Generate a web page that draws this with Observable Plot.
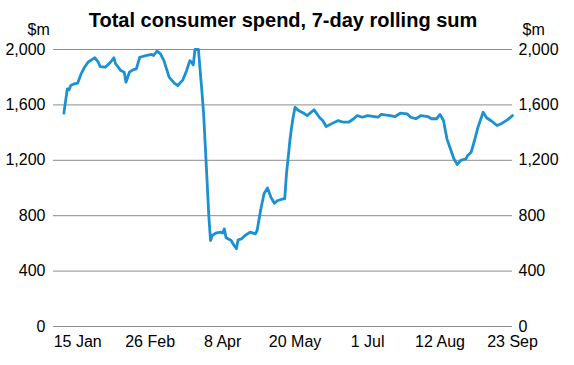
<!DOCTYPE html>
<html>
<head>
<meta charset="utf-8">
<script src="https://cdn.jsdelivr.net/npm/d3@7"></script>
<script src="https://cdn.jsdelivr.net/npm/@observablehq/plot@0.6"></script>
<style>
  html, body { margin: 0; padding: 0; background: #fff; }
  #chart svg { display: block; }
</style>
</head>
<body>
<div id="chart"></div>
<script>
const title = "Total consumer spend, 7-day rolling sum";
const unitLabel = "$m";

const dates = [
  "2020-01-07","2020-01-09","2020-01-10","2020-01-11","2020-01-13","2020-01-15","2020-01-17","2020-01-19",
  "2020-01-21","2020-01-23","2020-01-25","2020-01-27","2020-01-28","2020-01-31","2020-02-03","2020-02-05",
  "2020-02-06","2020-02-09","2020-02-11","2020-02-12","2020-02-14","2020-02-16","2020-02-18","2020-02-20",
  "2020-02-24","2020-02-27","2020-02-28","2020-03-01","2020-03-03","2020-03-05","2020-03-08","2020-03-11",
  "2020-03-13","2020-03-16","2020-03-18","2020-03-20","2020-03-21","2020-03-22","2020-03-23","2020-03-25",
  "2020-03-26","2020-03-27","2020-03-28","2020-03-29","2020-03-30","2020-03-31","2020-04-01","2020-04-02",
  "2020-04-04","2020-04-07","2020-04-08","2020-04-09","2020-04-10","2020-04-13","2020-04-14","2020-04-16",
  "2020-04-17","2020-04-19","2020-04-21","2020-04-24","2020-04-27","2020-04-28","2020-04-30","2020-05-02",
  "2020-05-04","2020-05-06","2020-05-08","2020-05-10","2020-05-13","2020-05-14","2020-05-15","2020-05-16",
  "2020-05-17","2020-05-18","2020-05-19","2020-05-20","2020-05-21","2020-05-22","2020-05-25","2020-05-27",
  "2020-05-31","2020-06-02","2020-06-03","2020-06-05","2020-06-07","2020-06-10","2020-06-14","2020-06-17",
  "2020-06-20","2020-06-23","2020-06-25","2020-06-28","2020-07-01","2020-07-05","2020-07-07","2020-07-09",
  "2020-07-14","2020-07-17","2020-07-20","2020-07-24","2020-07-26","2020-07-29","2020-08-01","2020-08-05",
  "2020-08-07","2020-08-10","2020-08-12","2020-08-14","2020-08-16","2020-08-18","2020-08-20","2020-08-22",
  "2020-08-24","2020-08-27","2020-08-28","2020-08-30","2020-09-01","2020-09-03","2020-09-06","2020-09-08",
  "2020-09-11","2020-09-14","2020-09-17","2020-09-20","2020-09-23"
];
const spend = [
  1540,1716,1709,1740,1752,1757,1824,1872,
  1908,1925,1940,1908,1877,1872,1908,1940,
  1897,1848,1836,1764,1836,1853,1860,1944,
  1957,1964,1957,1988,1969,1920,1800,1757,
  1740,1781,1843,1920,1908,1889,2000,2000,
  1848,1700,1535,1294,1050,800,621,657,
  674,681,674,705,640,621,597,561,
  626,633,657,681,669,693,837,958,
  1001,933,890,910,922,922,1100,1220,
  1343,1440,1520,1583,1570,1560,1540,1523,
  1565,1530,1511,1487,1444,1463,1487,1475,
  1475,1500,1523,1511,1523,1516,1511,1531,
  1523,1516,1540,1535,1511,1500,1523,1516,
  1500,1500,1531,1487,1355,1283,1211,1170,
  1199,1211,1235,1258,1343,1439,1547,1507,
  1482,1451,1468,1492,1523
];

const yTicks = [0, 400, 800, 1200, 1600, 2000];
const xTickDates = ["2020-01-15","2020-02-26","2020-04-08","2020-05-20","2020-07-01","2020-08-12","2020-09-23"];
const xDomain = ["2020-01-01", "2020-09-23"];

const data = dates.map((d, i) => ({date: new Date(d), value: spend[i]}));

const gridColor = "#8c8c8c";
const lineColor = "#1b91d2";

const chart = Plot.plot({
  width: 574,
  height: 365,
  marginTop: 49,
  marginBottom: 39,
  marginLeft: 53,
  marginRight: 62,
  style: {fontFamily: "'Liberation Sans', Arial, sans-serif", fontSize: "16px", color: "#000", background: "#fff"},
  x: {type: "utc", domain: xDomain.map(d => new Date(d))},
  y: {domain: [0, 2000]},
  marks: [
    Plot.gridY(yTicks, {stroke: gridColor, strokeOpacity: 1, strokeWidth: 1}),
    Plot.axisY(yTicks, {anchor: "left", tickSize: 0, tickPadding: 8, tickFormat: d3.format(","), label: null, fontSize: 16}),
    Plot.axisY(yTicks, {anchor: "right", tickSize: 0, tickPadding: 6, tickFormat: d3.format(","), label: null, fontSize: 16}),
    Plot.axisX(xTickDates.map(d => new Date(d)), {tickSize: 0, tickPadding: 9, tickFormat: d3.utcFormat("%-d %b"), label: null, fontSize: 16}),
    Plot.lineY(data, {x: "date", y: "value", stroke: lineColor, strokeWidth: 2.8, strokeLinejoin: "round"}),
    Plot.text([title], {frameAnchor: "top", dy: -37, fontSize: 20, fontWeight: "bold", fill: "#000"}),
    Plot.text([unitLabel], {frameAnchor: "top-left", dx: -26, dy: -26, fontSize: 16, fill: "#000"}),
    Plot.text([unitLabel], {frameAnchor: "top-right", dx: 10, dy: -26, textAnchor: "start", fontSize: 16, fill: "#000"})
  ]
});
document.getElementById("chart").appendChild(chart);
</script>
</body>
</html>
